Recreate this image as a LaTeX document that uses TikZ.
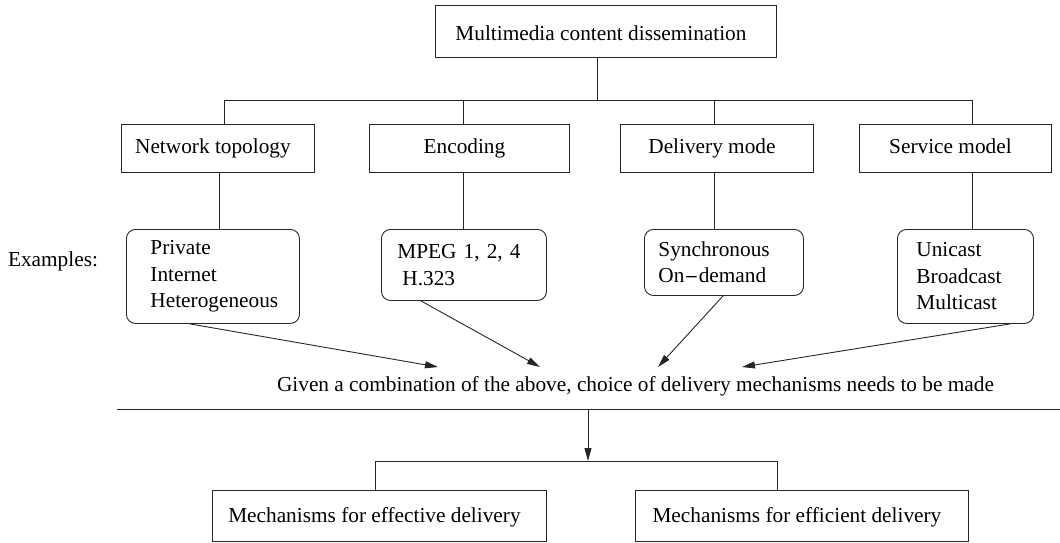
\documentclass[tikz,border=0pt]{standalone}
\usepackage{fontspec}
\setmainfont{Liberation Serif}
\usetikzlibrary{arrows.meta}
\begin{document}
\begin{tikzpicture}[x=1pt,y=-1pt,
  every node/.style={font=\fontsize{21.3}{26.5}\selectfont, inner sep=0pt},
  line/.style={line width=0.9pt, draw=black!85},
  sqbox/.style={line, draw, anchor=north west, text height=14pt, text depth=4pt,
    execute at begin node=\hspace*{-10pt}},
  exbox/.style={line, draw, rounded corners=9pt, anchor=north west, align=left},
  tip/.style={line, -{Triangle[length=13pt,width=7pt]}}
]
\useasboundingbox (0,0) rectangle (1060,542);

% root
\node[sqbox, minimum width=341pt, minimum height=52pt, text height=18pt, text depth=0pt] (top) at (435,5) {Multimedia content dissemination};

% categories
\node[sqbox, minimum width=193pt, minimum height=48pt] (nt) at (121,124) {Network topology};
\node[sqbox, minimum width=200pt, minimum height=48pt] (en) at (369,124) {Encoding};
\node[sqbox, minimum width=193pt, minimum height=48pt] (dm) at (620,124) {Delivery mode};
\node[sqbox, minimum width=192pt, minimum height=48pt] (sm) at (859,124) {Service model};

% examples
\node (exlbl) at (53,261) {Examples:};
\node[exbox, inner xsep=24pt, text width=125pt, minimum height=94pt] (ex1) at (126,229)
  {Private\\Internet\\Heterogeneous};
\node[exbox, inner xsep=16pt, text width=133pt, minimum height=71pt] (ex2) at (381,229)
  {MPEG 1, 2, 4\\\hspace*{5pt}H.323};
\node[exbox, inner xsep=14pt, text width=131pt, minimum height=66pt] (ex3) at (644,229)
  {Synchronous\\On{\fontspec{DejaVu Serif}\scalebox{0.8}{−}}demand};
\node[exbox, inner xsep=19pt, text width=98pt, minimum height=94pt] (ex4) at (897,229)
  {Unicast\\Broadcast\\Multicast};

% summary line
\node (given) at (635.5,386) {Given a combination of the above, choice of delivery mechanisms needs to be made};
\coordinate (g1) at (438,367);
\coordinate (g2) at (540,367);
\coordinate (g3) at (658,367);
\coordinate (g4) at (742,367);

\coordinate (ruleL) at (117,409);
\coordinate (ruleR) at (1060,409);
\coordinate (split) at (588,461);

% mechanisms
\node[sqbox, minimum width=334pt, minimum height=51pt, text height=16pt, text depth=2pt] (eff) at (212,490) {Mechanisms for effective delivery};
\node[sqbox, minimum width=333pt, minimum height=51pt, text height=16pt, text depth=2pt] (effi) at (635,490) {Mechanisms for efficient delivery};

% tree connectors
\coordinate (busL) at (224,100);
\coordinate (busR) at (972,100);
\draw[line] (top.south -| 597,0) -- (597,100);
\draw[line] (nt.north -| busL) -- (busL) -- (busR) -- (sm.north -| busR);
\draw[line] (en.north -| 463,0) -- (463,100);
\draw[line] (dm.north -| 714,0) -- (714,100);

\draw[line] (nt.south -| 219,0) -- (ex1.north -| 219,0);
\draw[line] (en.south -| 463,0) -- (ex2.north -| 463,0);
\draw[line] (dm.south -| 714,0) -- (ex3.north -| 714,0);
\draw[line] (sm.south -| 972,0) -- (ex4.north -| 972,0);

% arrows into the summary
\draw[tip] (ex1.south -| 190,0) -- (g1);
\draw[tip] (ex2.south -| 421,0) -- (g2);
\draw[tip] (ex3.south -| 723,0) -- (g3);
\draw[tip] (ex4.south -| 1010,0) -- (g4);

% rule and split to mechanisms
\draw[line] (ruleL) -- (ruleR);
\draw[tip] (ruleL -| split) -- (split);
\draw[line] (eff.north -| 375,0) -- (375,461) -- (777,461) -- (effi.north -| 777,0);
\end{tikzpicture}
\end{document}
